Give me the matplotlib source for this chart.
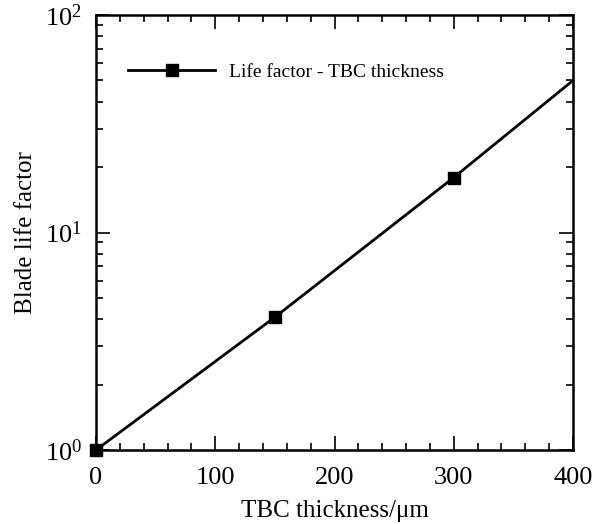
import matplotlib
matplotlib.use("Agg")
import matplotlib.pyplot as plt
from matplotlib.ticker import MultipleLocator, LogLocator, NullFormatter

# TBC thickness (um) vs blade life factor
thickness = [0, 150, 300, 400]
life_factor = [1.0, 4.08, 17.9, 50.0]
marked = [0, 1, 2]

plt.rcParams['font.family'] = ['Liberation Serif', 'DejaVu Serif']
plt.rcParams['mathtext.fontset'] = 'stix'

fig = plt.figure(figsize=(5.99, 5.24), dpi=100)
ax = fig.add_axes([96 / 599, 1 - 450 / 524, 477 / 599, 435 / 524])

ax.plot(thickness, life_factor, color='black', lw=2, marker='s', ms=8,
        markevery=marked, label='Life factor - TBC thickness', clip_on=False, zorder=3)

ax.set_yscale('log')
ax.set_xlim(0, 400)
ax.set_ylim(1, 100)

ax.xaxis.set_major_locator(MultipleLocator(100))
ax.xaxis.set_minor_locator(MultipleLocator(20))
ax.yaxis.set_major_locator(LogLocator(base=10, numticks=5))
ax.yaxis.set_minor_locator(LogLocator(base=10, subs=range(2, 10), numticks=10))
ax.yaxis.set_minor_formatter(NullFormatter())

ax.tick_params(which='both', direction='in', top=True, right=True, width=1.2,
               labelsize=19)
ax.tick_params(axis='x', pad=12)
ax.tick_params(axis='y', pad=10)
ax.tick_params(which='major', length=10)
ax.tick_params(which='minor', length=5)
for s in ax.spines.values():
    s.set_linewidth(1.8)

ax.set_xlabel('TBC thickness/μm', fontsize=18, labelpad=8)
ax.set_ylabel('Blade life factor', fontsize=18, labelpad=6)

ax.legend(loc='upper left', bbox_to_anchor=(0.03, 0.93), frameon=False,
          fontsize=14, handlelength=4.5, handletextpad=0.7)

fig.savefig('out.png', dpi=100)
